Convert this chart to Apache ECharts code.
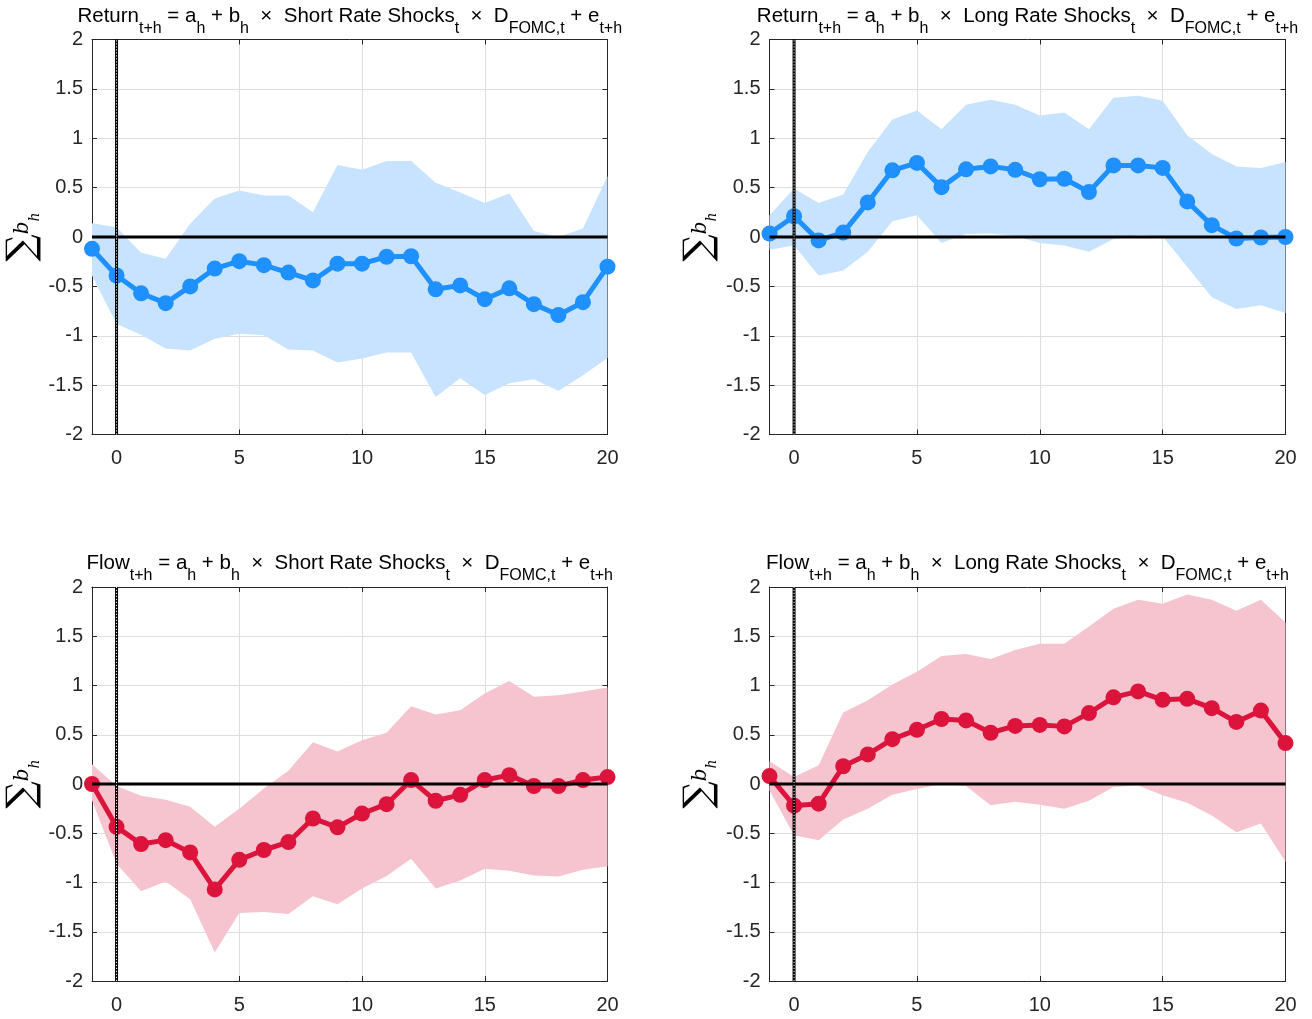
<!DOCTYPE html>
<html>
<head>
<meta charset="utf-8">
<script src="https://cdn.jsdelivr.net/npm/echarts@6/dist/echarts.min.js"></script>
<style>
html,body{margin:0;padding:0;background:#fff;}
#chart{width:1312px;height:1019px;}
</style>
</head>
<body>
<div id="chart"></div>
<script>
// ---- data ----
const horizons = [-1,0,1,2,3,4,5,6,7,8,9,10,11,12,13,14,15,16,17,18,19,20];
const xTickValues = [0,5,10,15,20];

const retShortCoef  = [-0.12,-0.39,-0.57,-0.67,-0.50,-0.32,-0.245,-0.285,-0.36,-0.44,-0.27,-0.27,-0.20,-0.195,-0.53,-0.49,-0.63,-0.52,-0.68,-0.79,-0.66,-0.30];
const retShortUpper = [0.14,0.10,-0.16,-0.22,0.135,0.39,0.47,0.42,0.42,0.25,0.73,0.68,0.77,0.77,0.55,0.45,0.345,0.44,0.06,0.0,0.085,0.615];
const retShortLower = [-0.39,-0.88,-0.99,-1.13,-1.15,-1.03,-0.98,-0.995,-1.14,-1.15,-1.27,-1.23,-1.17,-1.17,-1.62,-1.43,-1.60,-1.48,-1.44,-1.56,-1.40,-1.225];

const retLongCoef  = [0.035,0.21,-0.035,0.045,0.35,0.675,0.75,0.505,0.685,0.715,0.68,0.585,0.59,0.455,0.725,0.725,0.70,0.36,0.12,-0.015,-0.005,0.0];
const retLongUpper = [0.22,0.49,0.345,0.43,0.86,1.19,1.28,1.09,1.34,1.39,1.34,1.23,1.26,1.09,1.41,1.43,1.38,1.03,0.84,0.715,0.70,0.76];
const retLongLower = [-0.13,-0.085,-0.39,-0.34,-0.15,0.16,0.22,-0.06,0.03,0.035,0.01,-0.06,-0.085,-0.15,-0.02,0.02,0.005,-0.30,-0.61,-0.73,-0.69,-0.77];

const flowShortCoef  = [0.0,-0.435,-0.61,-0.57,-0.695,-1.07,-0.77,-0.67,-0.59,-0.35,-0.44,-0.30,-0.205,0.04,-0.17,-0.11,0.04,0.09,-0.02,-0.02,0.04,0.07];
const flowShortUpper = [0.2,-0.02,-0.12,-0.16,-0.23,-0.435,-0.25,-0.045,0.135,0.425,0.33,0.445,0.52,0.79,0.705,0.75,0.92,1.045,0.885,0.90,0.94,0.98];
const flowShortLower = [-0.165,-0.81,-1.09,-0.99,-1.17,-1.71,-1.31,-1.30,-1.32,-1.14,-1.22,-1.06,-0.935,-0.76,-1.06,-0.98,-0.86,-0.88,-0.93,-0.94,-0.87,-0.835];

const flowLongCoef  = [0.08,-0.22,-0.20,0.18,0.30,0.455,0.55,0.66,0.645,0.52,0.59,0.60,0.585,0.72,0.88,0.94,0.855,0.865,0.77,0.63,0.745,0.415];
const flowLongUpper = [0.23,0.07,0.19,0.725,0.85,1.01,1.14,1.30,1.32,1.27,1.36,1.425,1.425,1.60,1.78,1.87,1.83,1.925,1.87,1.76,1.87,1.64];
const flowLongLower = [-0.065,-0.52,-0.57,-0.36,-0.25,-0.11,-0.05,0.0,-0.02,-0.215,-0.18,-0.21,-0.25,-0.17,-0.03,-0.015,-0.115,-0.19,-0.32,-0.49,-0.40,-0.79];

const zeroLine = [[-1,0],[20,0]];
const eventLine = [[0,-2],[0,2]];

const dependents = ['Return','Return','Flow','Flow'];
const shockNames = ['Short','Long','Short','Long'];

// ---- styling ----
const FONT = "'Liberation Sans', Arial, Helvetica, sans-serif";
const SERIF = "'DejaVu Serif', 'Liberation Serif', serif";
const AX = '#262626';
const GRIDC = '#dedede';
const BLUE = '#1E90FF', BLUE_BAND = '#C7E3FF';
const RED = '#DC143C', RED_BAND = '#F6C4CE';

const panels = [
  {coef: retShortCoef, up: retShortUpper, lo: retShortLower, color: BLUE, band: BLUE_BAND},
  {coef: retLongCoef, up: retLongUpper, lo: retLongLower, color: BLUE, band: BLUE_BAND},
  {coef: flowShortCoef, up: flowShortUpper, lo: flowShortLower, color: RED, band: RED_BAND},
  {coef: flowLongCoef, up: flowLongUpper, lo: flowLongLower, color: RED, band: RED_BAND}
];

const grids = [
  {left: 92, top: 39.5, width: 515.5, height: 395},
  {left: 769.5, top: 39.5, width: 516, height: 395},
  {left: 92, top: 587, width: 515.5, height: 394},
  {left: 769.5, top: 587, width: 516, height: 394}
];
const titleTops = [6, 6, 553, 553];

function titleText(dep, shock) {
  return '{m|' + dep + '}{s|t+h}{m| = a}{s|h}{m| + b}{s|h}{m|  \u00d7  ' + shock +
    ' Rate Shocks}{s|t}{m|  \u00d7  D}{s|FOMC,t}{m| + e}{s|t+h}';
}

const option = {
  animation: false,
  backgroundColor: '#fff',
  title: [], grid: [], xAxis: [], yAxis: [], series: []
};

panels.forEach((p, i) => {
  const g = grids[i];
  option.grid.push(Object.assign({containLabel: false}, g));
  option.title.push({
    text: titleText(dependents[i], shockNames[i]),
    left: g.left + g.width / 2,
    textAlign: 'center',
    top: titleTops[i],
    padding: 0,
    textStyle: {
      fontWeight: 'normal',
      rich: {
        m: {fontFamily: FONT, fontSize: 20.5, fontWeight: 'normal', color: '#000', lineHeight: 14, verticalAlign: 'top'},
        s: {fontFamily: FONT, fontSize: 16, fontWeight: 'normal', color: '#000', lineHeight: 45, verticalAlign: 'middle'}
      }
    }
  });
  option.xAxis.push({
    type: 'value', gridIndex: i, position: 'bottom', min: -1, max: 20,
    axisLine: {show: true, onZero: false, lineStyle: {color: AX, width: 1}},
    axisTick: {show: true, inside: true, length: 5, customValues: xTickValues, lineStyle: {color: AX}},
    axisLabel: {show: true, customValues: xTickValues, margin: 14, color: AX, fontFamily: FONT, fontSize: 20},
    splitLine: {show: true, lineStyle: {color: GRIDC, width: 1}}
  });
  option.xAxis.push({
    type: 'value', gridIndex: i, position: 'top', min: -1, max: 20,
    axisLine: {show: true, onZero: false, lineStyle: {color: AX, width: 1}},
    axisTick: {show: true, inside: true, length: 5, customValues: xTickValues, lineStyle: {color: AX}},
    axisLabel: {show: false},
    splitLine: {show: false}
  });
  option.yAxis.push({
    type: 'value', gridIndex: i, position: 'left', min: -2, max: 2, interval: 0.5,
    name: '{sum|\u2211}{b|b}{h|h}',
    nameLocation: 'middle', nameRotate: 90, nameGap: 50,
    nameTextStyle: {
      rich: {
        sum: {fontFamily: SERIF, fontSize: 38, color: '#000', lineHeight: 38, verticalAlign: 'middle'},
        b: {fontFamily: SERIF, fontSize: 20, fontStyle: 'italic', color: '#000', lineHeight: 36, verticalAlign: 'middle'},
        h: {fontFamily: SERIF, fontSize: 14, fontStyle: 'italic', color: '#000', lineHeight: 28, verticalAlign: 'bottom'}
      }
    },
    axisLine: {show: true, onZero: false, lineStyle: {color: AX, width: 1}},
    axisTick: {show: true, inside: true, length: 5, lineStyle: {color: AX}},
    axisLabel: {show: true, margin: 9, color: AX, fontFamily: FONT, fontSize: 20},
    splitLine: {show: true, lineStyle: {color: GRIDC, width: 1}}
  });
  option.yAxis.push({
    type: 'value', gridIndex: i, position: 'right', min: -2, max: 2, interval: 0.5,
    axisLine: {show: true, onZero: false, lineStyle: {color: AX, width: 1}},
    axisTick: {show: true, inside: true, length: 5, lineStyle: {color: AX}},
    axisLabel: {show: false},
    splitLine: {show: false}
  });

  const xi = 2 * i, yi = 2 * i;
  const lo = p.lo, up = p.up;
  // confidence band as one polygon through the library's coordinate system
  option.series.push({
    type: 'custom', xAxisIndex: xi, yAxisIndex: yi, silent: true, z: 1,
    data: horizons.map((h, k) => [h, lo[k], up[k]]),
    encode: {x: 0, y: [1, 2]},
    renderItem: function (params, api) {
      if (params.dataIndex !== 0) return null;
      const pts = [];
      for (let k = 0; k < horizons.length; k++) pts.push(api.coord([horizons[k], up[k]]));
      for (let k = horizons.length - 1; k >= 0; k--) pts.push(api.coord([horizons[k], lo[k]]));
      return {
        type: 'polygon',
        shape: {points: pts},
        style: {fill: p.band, stroke: null}
      };
    }
  });
  option.series.push({
    type: 'line', xAxisIndex: xi, yAxisIndex: yi,
    data: horizons.map((h, k) => [h, p.coef[k]]),
    symbol: 'circle', symbolSize: 16, clip: false, z: 3,
    lineStyle: {color: p.color, width: 5},
    itemStyle: {color: p.color, borderWidth: 0}
  });
  option.series.push({
    type: 'line', xAxisIndex: xi, yAxisIndex: yi, data: zeroLine,
    symbol: 'none', silent: true, z: 4,
    lineStyle: {color: '#000', width: 3}
  });
  option.series.push({
    type: 'line', xAxisIndex: xi, yAxisIndex: yi, data: eventLine,
    symbol: 'none', silent: true, z: 5,
    lineStyle: {color: '#000', width: 3}
  });
  option.series.push({
    type: 'line', xAxisIndex: xi, yAxisIndex: yi, data: eventLine,
    symbol: 'none', silent: true, z: 6,
    lineStyle: {color: '#fff', width: 1, type: [1.2, 1.8]}
  });
});

const chart = echarts.init(document.getElementById('chart'), null, {renderer: 'canvas'});
chart.setOption(option);
</script>
</body>
</html>
